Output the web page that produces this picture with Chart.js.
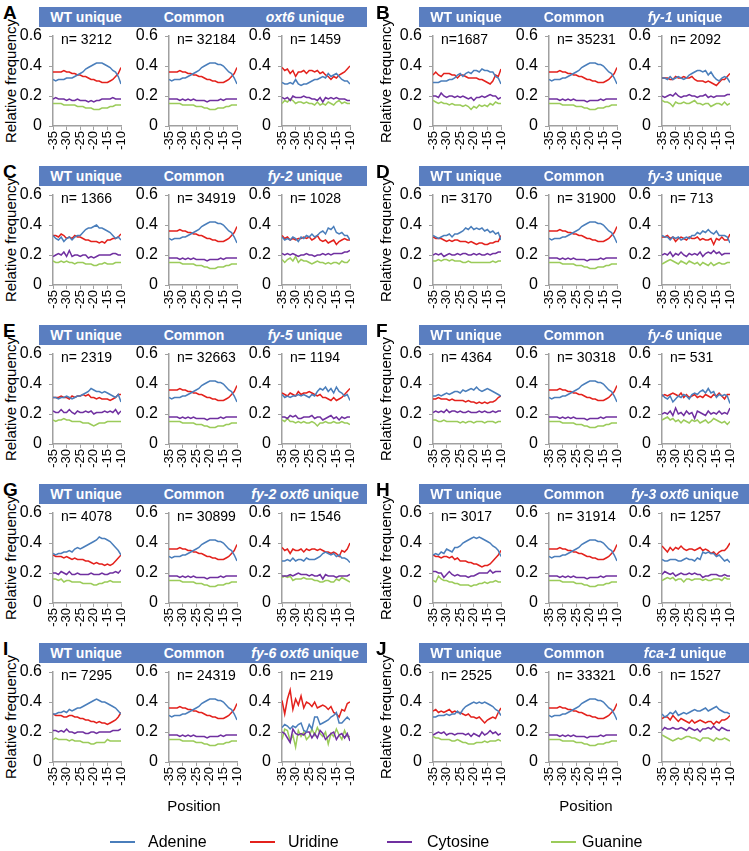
<!DOCTYPE html>
<html>
<head>
<meta charset="utf-8">
<script src="https://cdn.jsdelivr.net/npm/chart.js@4.4.1/dist/chart.umd.min.js"></script>
<style>
  body { margin: 0; width: 749px; height: 851px; position: relative; background: #fff; overflow: hidden;
         font-family: "Liberation Sans", Arial, sans-serif; color: #000; }
  .bar { position: absolute; height: 20px; background: #5a7ec0; }
  .bar span { position: absolute; top: 0; width: 140px; text-align: center; line-height: 20px;
              color: #fff; font-weight: bold; font-size: 14px; white-space: nowrap; }
  .letter { position: absolute; font-weight: bold; font-size: 19px; line-height: 19px; }
  .nlab { position: absolute; font-size: 14px; line-height: 16px; white-space: nowrap; }
  .ytitle { position: absolute; font-size: 15px; white-space: nowrap; transform: translate(-50%, -50%) rotate(-90deg); }
  .xtitle { position: absolute; font-size: 15px; transform: translateX(-50%); }
  canvas { position: absolute; }
  .leg { position: absolute; top: 832px; font-size: 16px; line-height: 20px; }
  .leg i { position: absolute; top: 9px; height: 2px; }
</style>
</head>
<body>
<script>
const positions = [-35,-34,-33,-32,-31,-30,-29,-28,-27,-26,-25,-24,-23,-22,-21,-20,-19,-18,-17,-16,-15,-14,-13,-12,-11,-10];
const bases = ['Adenine', 'Uridine', 'Cytosine', 'Guanine'];
const baseColors = ['#4a7ebb', '#e3211c', '#7030a0', '#9bcb5a'];

const panelLetters = ['A','B','C','D','E','F','G','H','I','J'];
const mutantNames = ['oxt6','fy-1','fy-2','fy-3','fy-5','fy-6','fy-2 oxt6','fy-3 oxt6','fy-6 oxt6','fca-1'];
const nWT = ['3212','1687','1366','3170','2319','4364','4078','3017','7295','2525'];
const nCommon = ['32184','35231','34919','31900','32663','30318','30899','31914','24319','33321'];
const nMutant = ['1459','2092','1028','713','1194','531','1546','1257','219','1527'];

// each set: [Adenine, Uridine, Cytosine, Guanine]
const commonSet = [
  [.31,.30,.31,.31,.31,.32,.32,.33,.34,.35,.36,.37,.39,.40,.41,.42,.42,.42,.41,.41,.40,.38,.36,.35,.32,.28],
  [.36,.36,.36,.36,.37,.36,.36,.35,.35,.34,.34,.33,.33,.32,.31,.31,.30,.30,.29,.29,.29,.30,.31,.33,.35,.39],
  [.18,.18,.18,.18,.17,.18,.17,.18,.17,.18,.17,.17,.17,.17,.16,.17,.17,.17,.17,.18,.17,.18,.18,.18,.18,.18],
  [.15,.15,.15,.15,.15,.14,.14,.14,.14,.14,.13,.13,.13,.12,.12,.11,.11,.11,.12,.12,.12,.13,.13,.14,.14,.14]
];

const wtA = [
  [.31,.30,.31,.31,.31,.32,.32,.32,.33,.34,.35,.36,.38,.39,.40,.41,.42,.42,.42,.41,.40,.39,.37,.36,.33,.28],
  [.36,.36,.36,.36,.37,.36,.36,.35,.35,.34,.34,.33,.33,.32,.31,.31,.30,.30,.29,.29,.29,.30,.31,.33,.35,.39],
  [.18,.19,.18,.18,.18,.17,.18,.17,.17,.18,.17,.17,.17,.16,.17,.16,.17,.17,.18,.18,.18,.18,.19,.18,.18,.18],
  [.15,.15,.15,.15,.14,.14,.14,.14,.14,.13,.13,.13,.12,.12,.12,.11,.11,.11,.12,.12,.12,.13,.13,.14,.14,.14]
];
const mutA = [
  [.29,.28,.28,.29,.28,.31,.28,.27,.28,.28,.29,.30,.31,.31,.32,.33,.32,.35,.33,.34,.35,.33,.31,.30,.30,.28],
  [.39,.37,.38,.35,.37,.33,.36,.36,.37,.35,.37,.37,.36,.37,.35,.36,.34,.33,.31,.33,.32,.34,.35,.36,.38,.40],
  [.19,.18,.19,.17,.20,.19,.19,.19,.20,.19,.19,.18,.18,.17,.19,.16,.19,.18,.19,.18,.19,.18,.18,.18,.17,.17],
  [.15,.17,.16,.18,.17,.15,.16,.16,.15,.16,.15,.15,.14,.16,.14,.15,.14,.16,.15,.14,.16,.17,.15,.16,.15,.15]
];
const wtB = [
  [.29,.29,.29,.30,.30,.30,.31,.31,.32,.34,.35,.33,.35,.36,.35,.37,.37,.36,.38,.37,.37,.36,.36,.33,.32,.28],
  [.34,.36,.34,.33,.35,.35,.35,.34,.34,.32,.34,.34,.33,.32,.32,.32,.32,.31,.31,.30,.29,.28,.30,.34,.33,.38],
  [.20,.20,.19,.22,.20,.19,.20,.20,.19,.20,.19,.20,.19,.18,.19,.17,.19,.19,.20,.19,.20,.21,.20,.20,.18,.19],
  [.17,.16,.15,.16,.15,.15,.14,.15,.14,.14,.14,.13,.14,.13,.11,.13,.12,.14,.13,.14,.13,.15,.14,.16,.15,.15]
];
const mutB = [
  [.32,.32,.31,.33,.31,.32,.33,.32,.31,.32,.34,.35,.36,.37,.37,.36,.37,.34,.36,.33,.31,.30,.32,.33,.32,.29],
  [.32,.32,.32,.31,.31,.33,.32,.32,.33,.32,.32,.33,.31,.30,.30,.30,.29,.30,.29,.28,.27,.29,.31,.31,.33,.35],
  [.20,.19,.20,.21,.20,.22,.20,.19,.20,.20,.21,.20,.20,.19,.20,.20,.21,.19,.20,.19,.20,.20,.20,.20,.21,.21],
  [.17,.16,.16,.15,.13,.16,.15,.15,.16,.15,.15,.16,.17,.15,.15,.14,.15,.15,.13,.14,.15,.15,.14,.16,.14,.15]
];
const wtC = [
  [.33,.31,.30,.32,.29,.31,.32,.30,.32,.33,.33,.35,.37,.38,.38,.39,.40,.38,.38,.37,.36,.35,.33,.31,.32,.30],
  [.33,.33,.32,.34,.33,.31,.32,.31,.33,.32,.32,.31,.30,.30,.29,.29,.29,.28,.29,.28,.30,.30,.31,.31,.32,.34],
  [.19,.20,.21,.20,.22,.19,.23,.19,.20,.20,.19,.20,.20,.18,.19,.18,.19,.20,.20,.20,.20,.20,.21,.21,.20,.20],
  [.16,.15,.15,.16,.15,.16,.15,.15,.14,.15,.15,.15,.14,.14,.14,.13,.13,.14,.14,.15,.14,.14,.14,.15,.15,.15]
];
const mutC = [
  [.32,.30,.31,.30,.32,.31,.29,.32,.31,.33,.32,.34,.32,.33,.35,.36,.34,.38,.37,.39,.35,.34,.35,.33,.33,.30],
  [.33,.31,.32,.30,.31,.30,.31,.31,.32,.31,.32,.30,.31,.33,.30,.29,.30,.28,.29,.30,.27,.29,.30,.31,.30,.30],
  [.21,.20,.21,.20,.21,.20,.19,.20,.20,.21,.20,.20,.19,.20,.20,.21,.20,.21,.20,.21,.21,.21,.21,.22,.22,.23],
  [.17,.15,.17,.18,.16,.19,.15,.17,.16,.16,.15,.14,.15,.16,.15,.15,.14,.15,.14,.15,.15,.14,.16,.15,.15,.17]
];
const wtD = [
  [.33,.32,.31,.32,.33,.33,.34,.32,.34,.34,.35,.36,.38,.37,.39,.37,.38,.37,.38,.36,.37,.35,.36,.34,.35,.30],
  [.32,.31,.31,.31,.30,.29,.30,.29,.30,.30,.29,.29,.29,.28,.29,.28,.27,.28,.28,.27,.27,.28,.28,.29,.29,.33],
  [.20,.21,.20,.21,.19,.20,.21,.20,.20,.21,.20,.21,.21,.20,.20,.21,.20,.21,.20,.20,.21,.20,.21,.21,.22,.22],
  [.16,.16,.17,.16,.17,.17,.16,.17,.16,.16,.16,.15,.15,.16,.15,.15,.15,.15,.15,.15,.15,.15,.16,.15,.16,.16]
];
const mutD = [
  [.33,.32,.32,.30,.32,.31,.32,.30,.31,.32,.31,.33,.33,.35,.34,.36,.35,.37,.35,.34,.36,.33,.33,.33,.32,.28],
  [.32,.32,.33,.31,.32,.29,.31,.32,.31,.30,.32,.31,.31,.32,.30,.31,.30,.30,.31,.27,.31,.30,.32,.30,.30,.34],
  [.20,.21,.20,.22,.19,.21,.20,.22,.20,.19,.21,.20,.21,.20,.22,.19,.21,.22,.21,.23,.21,.22,.20,.21,.21,.21],
  [.14,.15,.16,.17,.16,.15,.14,.16,.15,.14,.16,.15,.14,.15,.13,.15,.14,.13,.15,.13,.14,.15,.14,.14,.15,.15]
];
const wtE = [
  [.31,.31,.30,.31,.31,.32,.31,.30,.31,.32,.32,.33,.34,.35,.37,.36,.35,.35,.34,.35,.34,.33,.32,.31,.33,.28],
  [.31,.31,.31,.32,.31,.31,.30,.32,.31,.32,.32,.33,.32,.33,.31,.31,.30,.31,.30,.30,.30,.29,.30,.31,.33,.33],
  [.22,.21,.21,.23,.21,.21,.23,.21,.20,.22,.21,.21,.22,.21,.22,.20,.21,.21,.21,.22,.21,.22,.21,.23,.20,.22],
  [.16,.15,.16,.16,.17,.16,.16,.15,.15,.15,.15,.14,.14,.14,.13,.12,.13,.14,.14,.14,.15,.15,.15,.15,.15,.15]
];
const mutE = [
  [.33,.31,.32,.31,.32,.32,.33,.32,.33,.32,.31,.33,.32,.35,.37,.36,.38,.35,.37,.34,.38,.35,.34,.32,.33,.29],
  [.34,.33,.32,.34,.33,.32,.35,.33,.34,.34,.35,.34,.33,.32,.33,.31,.31,.30,.29,.31,.29,.30,.31,.33,.35,.37],
  [.18,.18,.17,.19,.18,.19,.17,.17,.18,.18,.18,.19,.17,.18,.18,.16,.17,.18,.19,.17,.18,.16,.18,.17,.18,.18],
  [.16,.15,.17,.15,.15,.14,.15,.14,.15,.14,.14,.15,.14,.12,.14,.14,.15,.14,.14,.15,.14,.14,.15,.14,.14,.13]
];
const wtF = [
  [.32,.32,.33,.32,.33,.34,.33,.34,.35,.35,.34,.36,.35,.36,.37,.36,.38,.36,.35,.36,.37,.36,.35,.34,.33,.32],
  [.30,.30,.31,.30,.30,.30,.29,.30,.29,.29,.29,.29,.28,.29,.28,.28,.27,.28,.27,.28,.27,.28,.28,.29,.31,.32],
  [.21,.22,.21,.22,.21,.23,.21,.22,.22,.21,.22,.21,.21,.22,.21,.21,.21,.22,.21,.22,.21,.21,.22,.21,.22,.22],
  [.16,.16,.15,.15,.16,.15,.15,.15,.15,.15,.14,.15,.14,.15,.15,.14,.15,.15,.15,.14,.15,.15,.15,.14,.15,.15]
];
const mutF = [
  [.33,.31,.30,.32,.28,.30,.32,.31,.33,.32,.30,.33,.34,.33,.35,.36,.34,.37,.34,.35,.31,.33,.32,.33,.32,.27],
  [.32,.33,.32,.33,.34,.33,.32,.34,.31,.33,.31,.32,.33,.31,.32,.31,.33,.32,.31,.33,.32,.34,.32,.30,.33,.33],
  [.20,.21,.20,.22,.19,.24,.20,.21,.19,.22,.20,.21,.17,.22,.21,.20,.19,.22,.20,.21,.20,.22,.20,.21,.20,.24],
  [.16,.17,.18,.16,.17,.15,.16,.14,.16,.15,.14,.16,.15,.16,.14,.15,.16,.14,.15,.17,.16,.15,.14,.15,.13,.15]
];
const wtG = [
  [.33,.32,.33,.33,.34,.34,.35,.34,.36,.37,.36,.37,.38,.39,.40,.41,.42,.44,.43,.43,.42,.41,.39,.37,.35,.32],
  [.32,.31,.31,.31,.30,.31,.30,.29,.30,.29,.29,.29,.28,.28,.27,.26,.27,.26,.26,.25,.26,.25,.26,.28,.30,.32],
  [.20,.20,.19,.21,.20,.19,.21,.19,.19,.20,.19,.19,.19,.19,.20,.19,.19,.19,.20,.19,.19,.20,.20,.21,.20,.22],
  [.16,.16,.15,.16,.14,.15,.15,.14,.14,.14,.14,.13,.13,.13,.13,.12,.12,.13,.13,.14,.14,.15,.14,.14,.14,.14]
];
const mutG = [
  [.28,.28,.29,.28,.30,.28,.29,.29,.28,.30,.29,.29,.29,.30,.31,.33,.34,.33,.32,.33,.31,.32,.30,.30,.29,.27],
  [.37,.35,.36,.33,.36,.35,.35,.36,.34,.36,.35,.36,.36,.35,.36,.35,.34,.34,.33,.34,.33,.31,.35,.34,.36,.40],
  [.18,.18,.18,.19,.18,.19,.20,.19,.19,.19,.18,.19,.18,.18,.19,.16,.19,.18,.18,.18,.17,.18,.18,.18,.18,.19],
  [.17,.18,.17,.18,.15,.16,.16,.16,.17,.16,.16,.16,.15,.15,.14,.14,.15,.15,.14,.14,.16,.15,.17,.16,.15,.14]
];
const wtH = [
  [.32,.33,.32,.34,.33,.36,.35,.34,.37,.37,.38,.40,.41,.42,.43,.44,.43,.44,.43,.42,.41,.40,.38,.37,.35,.31],
  [.32,.31,.31,.30,.31,.31,.30,.31,.29,.30,.28,.28,.28,.27,.27,.26,.26,.25,.24,.25,.25,.26,.28,.30,.32,.35],
  [.21,.21,.20,.20,.17,.19,.21,.19,.18,.19,.18,.18,.18,.17,.18,.18,.19,.20,.20,.20,.20,.22,.20,.21,.21,.21],
  [.15,.14,.18,.16,.15,.15,.14,.14,.13,.13,.12,.12,.12,.12,.11,.12,.12,.13,.13,.14,.13,.14,.14,.15,.14,.14]
];
const mutH = [
  [.29,.28,.28,.29,.29,.29,.28,.28,.29,.30,.29,.29,.28,.30,.29,.34,.33,.34,.33,.33,.31,.32,.30,.28,.29,.27],
  [.38,.36,.34,.37,.35,.37,.36,.38,.36,.35,.36,.36,.35,.36,.37,.35,.36,.35,.33,.34,.32,.34,.35,.35,.37,.40],
  [.19,.21,.20,.19,.20,.18,.19,.20,.19,.19,.20,.19,.20,.19,.19,.17,.18,.18,.19,.19,.19,.18,.18,.19,.18,.18],
  [.15,.16,.17,.16,.17,.15,.16,.16,.14,.16,.16,.15,.16,.16,.16,.15,.16,.15,.15,.16,.16,.16,.15,.17,.16,.16]
];
const wtI = [
  [.32,.32,.33,.33,.34,.33,.35,.34,.35,.36,.36,.37,.38,.39,.40,.41,.42,.41,.40,.40,.39,.38,.37,.36,.34,.32],
  [.32,.31,.31,.31,.30,.30,.31,.31,.30,.30,.29,.29,.28,.28,.27,.27,.26,.27,.26,.26,.25,.26,.27,.28,.30,.33],
  [.21,.21,.20,.21,.20,.22,.20,.20,.19,.20,.20,.20,.19,.19,.20,.20,.19,.20,.20,.20,.20,.20,.21,.21,.21,.22],
  [.15,.16,.15,.15,.15,.15,.14,.15,.14,.14,.14,.13,.13,.13,.12,.12,.13,.13,.13,.13,.15,.14,.14,.14,.14,.14]
];
const mutI = [
  [.23,.25,.24,.22,.24,.23,.25,.26,.21,.20,.25,.22,.30,.30,.25,.26,.27,.28,.30,.31,.33,.26,.26,.28,.30,.28],
  [.41,.32,.42,.48,.35,.42,.38,.44,.36,.40,.39,.37,.40,.36,.37,.38,.37,.35,.37,.33,.32,.30,.35,.34,.39,.40],
  [.20,.19,.16,.13,.22,.19,.18,.19,.18,.20,.20,.16,.19,.16,.21,.19,.15,.17,.19,.20,.15,.18,.19,.16,.19,.14],
  [.15,.22,.21,.14,.18,.10,.21,.17,.20,.15,.17,.22,.18,.23,.19,.17,.20,.12,.19,.17,.22,.18,.15,.21,.17,.17]
];
const wtJ = [
  [.30,.30,.31,.31,.31,.32,.31,.32,.32,.34,.32,.35,.37,.38,.39,.40,.39,.40,.39,.40,.39,.38,.37,.35,.34,.31],
  [.34,.35,.33,.34,.33,.34,.35,.33,.34,.33,.33,.32,.31,.32,.30,.30,.29,.30,.28,.26,.28,.29,.30,.29,.33,.36],
  [.18,.19,.20,.19,.20,.18,.19,.19,.18,.19,.19,.19,.18,.19,.17,.19,.18,.17,.20,.18,.19,.21,.19,.20,.18,.19],
  [.17,.16,.16,.15,.15,.15,.15,.14,.14,.15,.14,.13,.13,.12,.12,.12,.13,.13,.13,.14,.13,.14,.14,.14,.15,.14]
];
const mutJ = [
  [.32,.30,.31,.33,.32,.34,.31,.32,.33,.32,.33,.34,.35,.34,.34,.35,.36,.34,.35,.36,.37,.35,.34,.33,.33,.32],
  [.29,.30,.30,.28,.31,.29,.27,.29,.28,.27,.26,.28,.26,.27,.28,.27,.26,.27,.27,.25,.27,.26,.28,.28,.29,.31],
  [.21,.23,.22,.22,.23,.22,.22,.23,.22,.21,.23,.22,.21,.22,.20,.22,.22,.23,.22,.24,.22,.21,.23,.22,.21,.21],
  [.18,.17,.16,.15,.14,.15,.16,.15,.16,.17,.17,.16,.16,.15,.14,.16,.16,.16,.15,.14,.16,.15,.15,.16,.15,.14]
];

const wtSets = [wtA, wtB, wtC, wtD, wtE, wtF, wtG, wtH, wtI, wtJ];
const mutSets = [mutA, mutB, mutC, mutD, mutE, mutF, mutG, mutH, mutI, mutJ];

const axisGray = '#a0a0a0';
const chartOffsets = [14, 130, 243];
const headerCenters = [47, 155, 266];

function addEl(tag, cls, css, html) {
  const el = document.createElement(tag);
  if (cls) el.className = cls;
  Object.assign(el.style, css);
  if (html !== undefined) el.innerHTML = html;
  document.body.appendChild(el);
  return el;
}

function drawSmallChart(left, top, set) {
  const canvas = addEl('canvas', null, { left: left + 'px', top: top + 'px', width: '114px', height: '128px' });
  canvas.width = 114;
  canvas.height = 128;
  new Chart(canvas, {
    type: 'line',
    data: {
      datasets: bases.map((b, i) => ({
        label: b,
        data: positions.map((x, j) => ({ x: x, y: set[i][j] })),
        borderColor: baseColors[i],
        borderWidth: 1.5,
        pointRadius: 0,
        tension: 0,
        fill: false
      }))
    },
    options: {
      responsive: false,
      animation: false,
      events: [],
      layout: { padding: { top: 8, right: 6, left: 0, bottom: 0 } },
      plugins: { legend: { display: false }, tooltip: { enabled: false } },
      scales: {
        x: {
          type: 'linear', min: -35, max: -10,
          ticks: { stepSize: 5, autoSkip: false, minRotation: 90, maxRotation: 90, color: '#000',
                   font: { size: 13, family: 'Liberation Sans' }, padding: 1 },
          grid: { drawOnChartArea: false, drawTicks: true, tickLength: 4, color: axisGray },
          border: { color: axisGray, width: 1.5 },
          afterFit: s => { s.height = 30; s.paddingLeft = 0; s.paddingRight = 0; }
        },
        y: {
          min: 0, max: 0.6,
          ticks: { stepSize: 0.2, color: '#000', font: { size: 16, family: 'Liberation Sans' }, padding: 7,
                   callback: v => v === 0 ? '0' : v.toFixed(1) },
          grid: { drawOnChartArea: false, drawTicks: true, tickLength: 4, color: axisGray },
          border: { color: axisGray, width: 1.5 },
          afterFit: s => { s.width = 40; s.paddingTop = 0; s.paddingBottom = 0; }
        }
      }
    }
  });
}

panelLetters.forEach((letter, p) => {
  const col = p % 2, row = Math.floor(p / 2);
  const barLeft = col ? 419 : 39;
  const barTop = 7 + 159 * row;

  addEl('div', 'letter', { left: (col ? 376 : 3) + 'px', top: (barTop - 4) + 'px' }, letter);

  const bar = addEl('div', 'bar', { left: barLeft + 'px', top: barTop + 'px', width: (col ? 330 : 328) + 'px' });
  const heads = ['WT unique', 'Common', '<i>' + mutantNames[p] + '</i> unique'];
  heads.forEach((h, k) => {
    const s = document.createElement('span');
    s.style.left = (headerCenters[k] - 70) + 'px';
    s.innerHTML = h;
    bar.appendChild(s);
  });

  addEl('div', 'ytitle', { left: (col ? 385 : 10) + 'px', top: (barTop + 74) + 'px' }, 'Relative frequency');

  const sets = [wtSets[p], commonSet, mutSets[p]];
  const ns = [nWT[p], nCommon[p], nMutant[p]];
  sets.forEach((set, k) => {
    const axisX = barLeft + chartOffsets[k];
    drawSmallChart(axisX - 40, barTop + 21, set);
    const sep = (p === 1 && k === 0) ? '' : ' ';
    addEl('div', 'nlab', { left: (axisX + 8) + 'px', top: (barTop + 24) + 'px' }, 'n=' + sep + ns[k]);
  });

  if (row === 4) {
    addEl('div', 'xtitle', { left: (col ? 586 : 194) + 'px', top: '797px' }, 'Position');
  }
});

// legend
const legendLineX = [110, 250, 387, 551];
const legendTextX = [148, 288, 427, 582];
bases.forEach((b, i) => {
  const item = addEl('div', 'leg', { left: legendLineX[i] + 'px', width: '120px' });
  const line = document.createElement('i');
  line.style.left = '0px';
  line.style.width = '25px';
  line.style.background = baseColors[i];
  item.appendChild(line);
  const t = document.createElement('span');
  t.style.position = 'absolute';
  t.style.left = (legendTextX[i] - legendLineX[i]) + 'px';
  t.textContent = b;
  item.appendChild(t);
});
</script>
</body>
</html>
